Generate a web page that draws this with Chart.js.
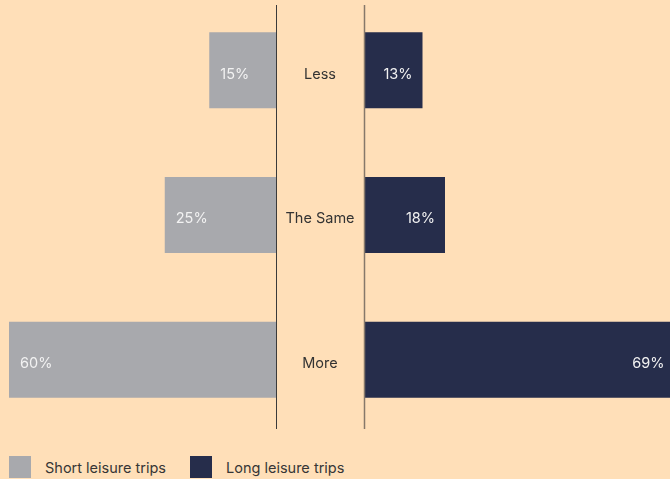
<!DOCTYPE html>
<html>
<head>
<meta charset="utf-8">
<script src="https://cdn.jsdelivr.net/npm/chart.js@4.4.1/dist/chart.umd.min.js"></script>
<style>
    html, body { margin: 0; padding: 0; background: #ffdfb8; }
    #wrap { position: relative; width: 670px; height: 479px; overflow: hidden; font-family: Inter, sans-serif; }
    #plots { position: absolute; left: 0; top: 5px; width: 670px; height: 424px; overflow: hidden; }
    .pane { position: absolute; top: -7px; height: 434px; }
    #leftPane { left: 0; width: 277px; }
    #rightPane { left: 276px; width: 394px; }
    #legend { position: absolute; left: 9px; top: 456px; display: flex; align-items: center; font-size: 14.5px; color: #363636; }
    #legend .item { display: flex; align-items: center; margin-right: 24px; }
    #legend .swatch { width: 22px; height: 22px; margin-right: 14px; }
</style>
</head>
<body>
<div id="wrap">
    <div id="plots">
        <div class="pane" id="leftPane"><canvas id="shortChart"></canvas></div>
        <div class="pane" id="rightPane"><canvas id="longChart"></canvas></div>
    </div>
    <div id="legend"></div>
</div>
<script>
const categories = ['Less', 'The Same', 'More'];
const seriesNames = ['Short leisure trips', 'Long leisure trips'];
const shortTrips = [15, 25, 60];
const longTrips = [13, 18, 69];
const seriesColors = ['#a8a9ad', '#262d4b'];

// vertical rule at the zero point of each half
const originLine = {
    id: 'originLine',
    afterDraw(chart, args, opts) {
        const ctx = chart.ctx;
        const x = Math.round(chart.scales.x.getPixelForValue(0)) + (opts.shift || 0);
        ctx.save();
        ctx.strokeStyle = opts.color;
        ctx.lineWidth = opts.width || 1;
        ctx.beginPath();
        ctx.moveTo(x, chart.chartArea.top);
        ctx.lineTo(x, chart.chartArea.bottom);
        ctx.stroke();
        ctx.restore();
    }
};

// percentage labels inside the bars
const barValues = {
    id: 'barValues',
    afterDatasetsDraw(chart, args, opts) {
        const ctx = chart.ctx;
        const meta = chart.getDatasetMeta(0);
        const data = chart.data.datasets[0].data;
        ctx.save();
        ctx.font = '14.5px Inter, sans-serif';
        ctx.fillStyle = '#f2f2f2';
        ctx.textBaseline = 'middle';
        meta.data.forEach(function(bar, i) {
            if (opts.side === 'left') {
                ctx.textAlign = 'left';
                ctx.fillText(data[i] + '%', bar.x + 11, bar.y + 4);
            } else {
                ctx.textAlign = 'right';
                ctx.fillText(data[i] + '%', bar.x - 10, bar.y + 4);
            }
        });
        ctx.restore();
    }
};

// category names in the gap between the two halves
const categoryNames = {
    id: 'categoryNames',
    afterDraw(chart, args, opts) {
        const ctx = chart.ctx;
        const yScale = chart.scales.y;
        ctx.save();
        ctx.font = '14.5px Inter, sans-serif';
        ctx.fillStyle = '#333';
        ctx.textAlign = 'center';
        ctx.textBaseline = 'middle';
        chart.data.labels.forEach(function(label, i) {
            ctx.fillText(label, chart.chartArea.left - opts.offset, yScale.getPixelForValue(i) + 4);
        });
        ctx.restore();
    }
};

const commonBar = {
    categoryPercentage: 1,
    barPercentage: 0.525,
    borderWidth: 0
};

new Chart(document.getElementById('shortChart'), {
    type: 'bar',
    data: {
        labels: categories,
        datasets: [Object.assign({
            label: seriesNames[0],
            data: shortTrips,
            backgroundColor: seriesColors[0]
        }, commonBar)]
    },
    options: {
        indexAxis: 'y',
        responsive: true,
        maintainAspectRatio: false,
        animation: false,
        layout: { padding: { left: 9, right: 1, top: 0, bottom: 0 } },
        plugins: {
            legend: { display: false },
            tooltip: { enabled: false },
            originLine: { color: '#3a3a3a', width: 1, shift: 0.5 },
            barValues: { side: 'left' }
        },
        scales: {
            x: { reverse: true, min: 0, max: 60, display: false },
            y: { display: false }
        }
    },
    plugins: [originLine, barValues]
});

new Chart(document.getElementById('longChart'), {
    type: 'bar',
    data: {
        labels: categories,
        datasets: [Object.assign({
            label: seriesNames[1],
            data: longTrips,
            backgroundColor: seriesColors[1]
        }, commonBar)]
    },
    options: {
        indexAxis: 'y',
        responsive: true,
        maintainAspectRatio: false,
        animation: false,
        layout: { padding: { left: 88, right: 0, top: 0, bottom: 0 } },
        plugins: {
            legend: { display: false },
            tooltip: { enabled: false },
            originLine: { color: '#86786a', width: 1.5, shift: 0.5 },
            barValues: { side: 'right' },
            categoryNames: { offset: 44 }
        },
        scales: {
            x: { min: 0, max: 68, display: false },
            y: { display: false }
        }
    },
    plugins: [originLine, barValues, categoryNames]
});

// legend shared by both halves
const legendEl = document.getElementById('legend');
seriesNames.forEach(function(name, i) {
    const item = document.createElement('div');
    item.className = 'item';
    const sw = document.createElement('div');
    sw.className = 'swatch';
    sw.style.background = seriesColors[i];
    const txt = document.createElement('span');
    txt.textContent = name;
    item.appendChild(sw);
    item.appendChild(txt);
    legendEl.appendChild(item);
});
</script>
</body>
</html>
